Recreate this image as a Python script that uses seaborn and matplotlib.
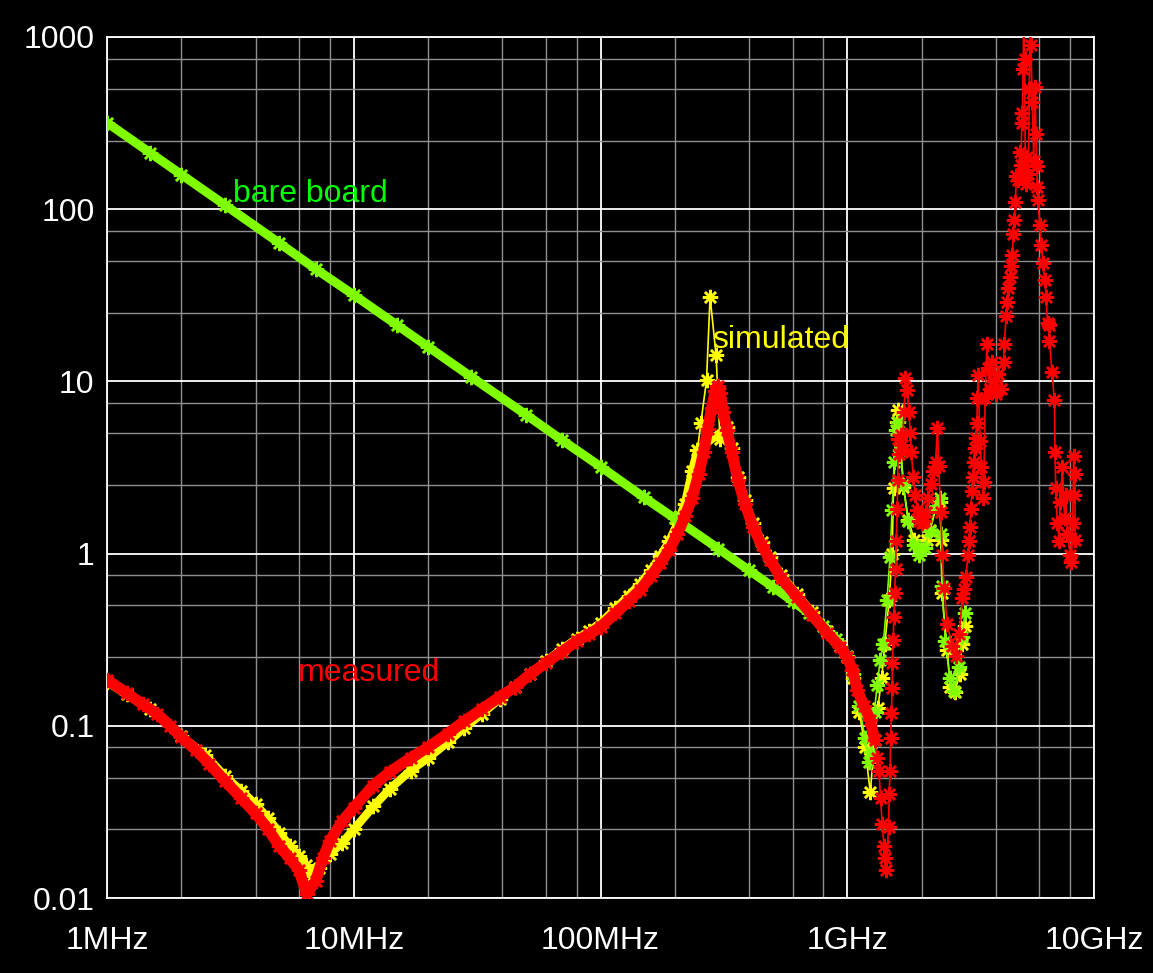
import matplotlib
matplotlib.use("Agg")
import matplotlib.pyplot as plt
from matplotlib.ticker import FixedLocator, NullFormatter
import pandas as pd
import seaborn as sns

# Impedance magnitude (ohm) versus frequency (MHz)
bare_freq = [1, 1.5, 2, 3, 5, 7, 10, 15, 20, 30,
             50, 70, 100, 150, 200, 300, 400, 500, 600, 700,
             800, 900, 1000, 1060, 1120, 1180, 1220, 1250, 1290, 1320,
             1360, 1400, 1450, 1490, 1520, 1550, 1580, 1600, 1640, 1690,
             1760, 1860, 1960, 2060, 2160, 2280, 2370, 2400, 2420, 2500,
             2600, 2720, 2850, 2920, 3000]
bare_ohm = [318, 212, 159, 106, 63.5, 45, 31.8, 21.2, 15.9, 10.6,
            6.4, 4.55, 3.2, 2.12, 1.6, 1.07, 0.8, 0.64, 0.53, 0.45,
            0.38, 0.32, 0.255, 0.2, 0.13, 0.085, 0.062, 0.07, 0.12, 0.172,
            0.24, 0.30, 0.54, 0.95, 1.8, 3.4, 5.2, 5.8, 4.0, 2.5,
            1.55, 1.12, 0.98, 1.08, 1.35, 1.9, 2.1, 1.3, 0.65, 0.31,
            0.19, 0.16, 0.22, 0.33, 0.45]

sim_freq = [1, 1.2, 1.5, 2, 2.5, 3, 3.5, 4, 4.5, 5,
            5.5, 6, 6.4, 6.75, 7.2, 8, 9, 10, 12, 14,
            17, 20, 24, 28, 33, 39, 45, 52, 60, 70,
            80, 90, 100, 115, 130, 145, 160, 175, 190, 205,
            220, 235, 247, 255, 269, 278, 294, 305, 326, 340,
            361, 385, 415, 450, 486, 540, 626, 720, 828, 937,
            1000, 1060, 1120, 1180, 1240, 1290, 1330, 1380, 1420, 1480,
            1520, 1540, 1590, 1610, 1690, 1770, 1870, 1980, 2100, 2170,
            2300, 2380, 2400, 2420, 2540, 2620, 2730, 2860, 2910, 3000]
sim_ohm = [0.18, 0.152, 0.125, 0.087, 0.068, 0.051, 0.042, 0.035, 0.029, 0.024,
           0.020, 0.0175, 0.0155, 0.0135, 0.015, 0.018, 0.021, 0.025, 0.034, 0.043,
           0.055, 0.065, 0.08, 0.097, 0.117, 0.143, 0.168, 0.20, 0.237, 0.28,
           0.32, 0.355, 0.395, 0.48, 0.57, 0.67, 0.80, 0.97, 1.18, 1.5,
           1.95, 3.0, 4.0, 5.7, 10.2, 31, 14.2, 4.6, 5.4, 4.1,
           2.8, 2.05, 1.5, 1.17, 0.95, 0.75, 0.58, 0.455, 0.355, 0.29,
           0.25, 0.19, 0.12, 0.075, 0.041, 0.083, 0.127, 0.19, 0.30, 0.54,
           1.0, 2.4, 5.8, 6.8, 2.45, 1.57, 1.2, 1.05, 1.2, 1.38,
           1.9, 2.0, 1.2, 0.59, 0.275, 0.168, 0.158, 0.20, 0.30, 0.38]

# measured trace, split into three frequency bands
meas_freq_low = [1, 1.2, 1.4, 1.6, 1.8, 2, 2.3, 2.6, 3, 3.5,
                 4, 4.5, 5, 5.5, 6, 6.45, 7, 7.5, 8, 9,
                 10, 12, 14, 17, 20, 24, 28, 33, 39, 45,
                 52, 60, 70, 80, 90, 100, 115, 130, 145, 160,
                 175, 190, 205, 220, 235, 250, 262, 272, 282, 292,
                 298, 305, 315, 326, 340, 361, 385, 415, 450, 486,
                 540, 626, 720, 828, 937, 1000, 1050, 1100, 1170, 1240,
                 1290]
meas_ohm_low = [0.185, 0.155, 0.133, 0.117, 0.100, 0.086, 0.072, 0.060, 0.048, 0.038,
                0.031, 0.025, 0.020, 0.017, 0.0145, 0.0105, 0.0125, 0.017, 0.0215, 0.028,
                0.0335, 0.045, 0.054, 0.065, 0.075, 0.090, 0.106, 0.125, 0.147, 0.168,
                0.20, 0.232, 0.27, 0.31, 0.34, 0.375, 0.45, 0.53, 0.615, 0.74,
                0.88, 1.05, 1.3, 1.65, 2.1, 2.9, 3.9, 5.3, 7.0, 8.8,
                9.4, 8.6, 6.6, 5.2, 3.9, 2.67, 1.95, 1.43, 1.12, 0.92,
                0.72, 0.56, 0.44, 0.346, 0.287, 0.25, 0.21, 0.161, 0.13, 0.108,
                0.083]

meas_freq_mid = [1320, 1344, 1364, 1386, 1410, 1426, 1439, 1470, 1480, 1490,
                 1500, 1510, 1520, 1525, 1535, 1546, 1555, 1570, 1580, 1594,
                 1600, 1610, 1620, 1645, 1670, 1700, 1720, 1750, 1780, 1800,
                 1820, 1850, 1880, 1920, 1960, 2000, 2040, 2080, 2130, 2180,
                 2230, 2280, 2320, 2350, 2390, 2430, 2470, 2540, 2660, 2750,
                 2840, 2930, 2970, 3020, 3090, 3120, 3140, 3170, 3200, 3220,
                 3250, 3280, 3310, 3350, 3370, 3390]
meas_ohm_mid = [0.065, 0.055, 0.038, 0.027, 0.020, 0.017, 0.0145, 0.026, 0.04, 0.055,
                0.085, 0.118, 0.166, 0.232, 0.316, 0.43, 0.59, 0.81, 1.18, 1.82,
                2.67, 4.6, 3.8, 4.9, 4.3, 6.6, 10.5, 8.9, 6.6, 5.0,
                3.9, 2.8, 2.2, 1.8, 1.55, 1.5, 1.55, 1.74, 2.1, 2.55,
                3.0, 3.4, 5.35, 3.23, 1.74, 0.98, 0.63, 0.39, 0.29, 0.255,
                0.34, 0.55, 0.62, 0.73, 0.98, 1.18, 1.43, 1.82, 2.3, 2.8,
                3.4, 4.1, 4.7, 5.7, 8.0, 10.9]

meas_freq_high = [3450, 3500, 3550, 3580, 3620, 3680, 3720, 3780, 3850, 3920,
                  4000, 4100, 4200, 4300, 4330, 4400, 4450, 4500, 4550, 4600,
                  4670, 4700, 4750, 4800, 4850, 4920, 5000, 5050, 5100, 5130,
                  5160, 5190, 5230, 5270, 5320, 5370, 5420, 5470, 5510, 5550,
                  5620, 5700, 5770, 5820, 5860, 5900, 5940, 6020, 6120, 6200,
                  6310, 6400, 6480, 6550, 6600, 6750, 6910, 6950, 7000, 7100,
                  7230, 7300, 7450, 7600, 7680, 7800, 8000, 8100, 8200, 8270,
                  8300, 8350, 8400]
meas_ohm_high = [4.5, 3.2, 2.1, 2.6, 8.0, 16.4, 12, 9.0, 13, 10,
                 8.5, 11, 9.0, 13, 16.4, 24, 29, 35, 40.5, 46.5,
                 54, 72, 87, 110, 155, 148, 215, 180, 315, 364,
                 650, 1500, 750, 170, 140, 200, 160, 500, 1500, 900,
                 420, 190, 510, 275, 178, 134, 113, 81, 62, 49,
                 39, 31, 21.8, 21.3, 17.2, 11.4, 7.8, 3.9, 2.4, 1.5,
                 1.18, 2.0, 3.2, 1.6, 2.2, 1.3, 0.98, 0.89, 1.5, 3.7,
                 2.2, 2.9, 1.2]

x_ticks = [1, 10, 100, 1000, 10000]
x_labels = ["1MHz", "10MHz", "100MHz", "1GHz", "10GHz"]
y_ticks = [0.01, 0.1, 1, 10, 100, 1000]
y_labels = ["0.01", "0.1", "1", "10", "100", "1000"]

RED = "#ff0000"
YELLOW = "#ffff00"
LIME = "#80ff00"

sns.set_style("dark")
plt.rcParams["font.family"] = ["Liberation Sans", "DejaVu Sans"]

fig = plt.figure(figsize=(11.53, 9.73), dpi=100, facecolor="black")
ax = fig.add_axes([107 / 1153, 1 - 898 / 973, (1094 - 107) / 1153, (898 - 37) / 973])
ax.set_facecolor("black")

bare = pd.DataFrame({"f": bare_freq, "z": bare_ohm})
sim = pd.DataFrame({"f": sim_freq, "z": sim_ohm})
meas = pd.DataFrame({"f": meas_freq_low + meas_freq_mid + meas_freq_high,
                     "z": meas_ohm_low + meas_ohm_mid + meas_ohm_high})

star = (8, 2, 0)


def trace(df, color, dense, band_lw, zorder):
    # densely sampled stretch drawn as a solid band
    sns.lineplot(data=df[dense], x="f", y="z", ax=ax, color=color, lw=band_lw,
                 estimator=None, sort=False, zorder=zorder,
                 solid_capstyle="round", solid_joinstyle="round")
    # every sample as a star joined by a thin line
    sns.lineplot(data=df, x="f", y="z", ax=ax, color=color, lw=1.2,
                 estimator=None, sort=False, zorder=zorder + 0.5,
                 marker=star, markersize=11, markeredgewidth=1.8,
                 markeredgecolor=color, markerfacecolor=color)


trace(sim, YELLOW, (sim.f <= 250) | ((sim.f >= 326) & (sim.f <= 1100)), 6.0, 3)
trace(bare, LIME, bare.f <= 1100, 6.5, 4)
trace(meas, RED, meas.f <= 1290, 8.0, 5)

ax.set_xscale("log")
ax.set_yscale("log")
ax.set_xlim(1, 10000)
ax.set_ylim(0.01, 1000)

ax.xaxis.set_major_locator(FixedLocator(x_ticks))
ax.yaxis.set_major_locator(FixedLocator(y_ticks))
ax.set_xticklabels(x_labels)
ax.set_yticklabels(y_labels)
x_minor = [m * 10 ** d for d in range(0, 4) for m in (2, 4, 6, 8)]
y_minor = [m * 10 ** d for d in range(-2, 3) for m in (2.5, 5, 7.5)]
ax.xaxis.set_minor_locator(FixedLocator(x_minor))
ax.yaxis.set_minor_locator(FixedLocator(y_minor))
ax.xaxis.set_minor_formatter(NullFormatter())
ax.yaxis.set_minor_formatter(NullFormatter())

ax.grid(which="major", color="#ffffff", lw=1.3, zorder=0)
ax.grid(which="minor", color="#8f8f8f", lw=1.0, zorder=0)
ax.set_axisbelow(True)

ax.tick_params(axis="both", which="both", length=0, colors="white", labelsize=23)
ax.tick_params(axis="x", pad=20)
ax.tick_params(axis="y", pad=9)
for s in ax.spines.values():
    s.set_color("white")
    s.set_linewidth(1.3)
    s.set_visible(True)
ax.set_xlabel("")
ax.set_ylabel("")

ax.text(3.24, 122, "bare board", color="#00ff00", fontsize=23, ha="left", va="center", zorder=6)
ax.text(283, 17.3, "simulated", color=YELLOW, fontsize=23, ha="left", va="center", zorder=6)
ax.text(5.94, 0.203, "measured", color=RED, fontsize=23, ha="left", va="center", zorder=6)

fig.savefig("out.png", dpi=100, facecolor="black")
